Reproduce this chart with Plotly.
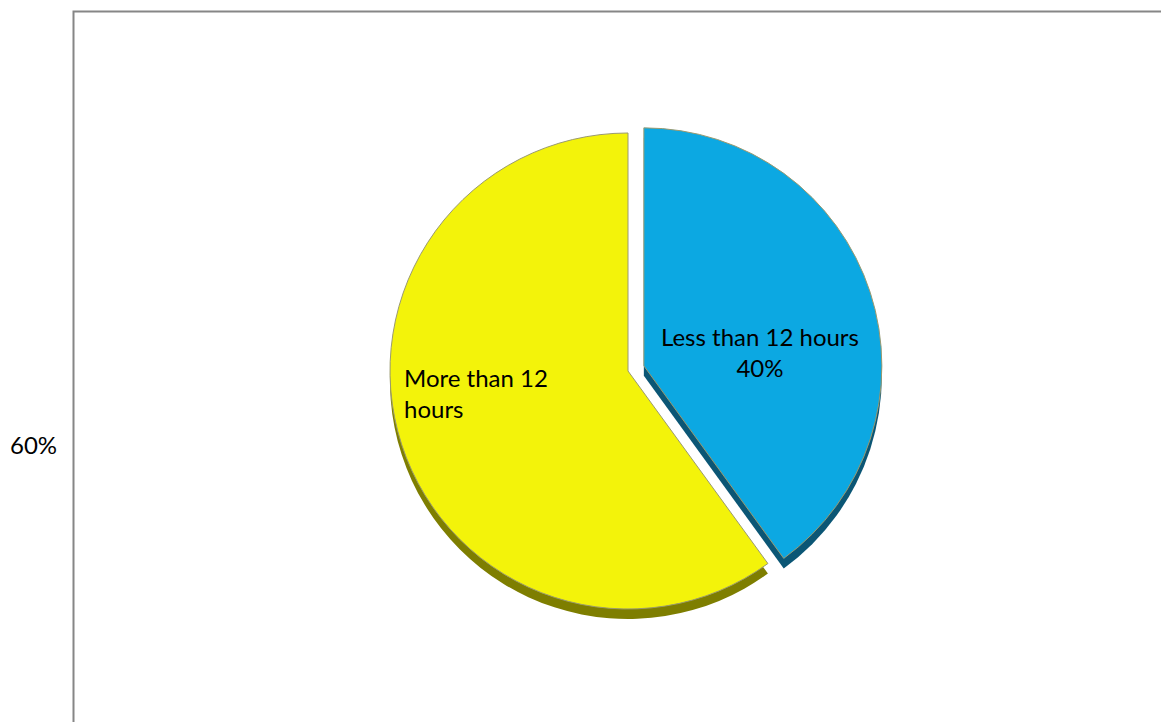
import plotly.graph_objects as go

labels = ["Less than 12 hours", "More than 12 hours"]
values = [40, 60]
colors = ["#0CA8E2", "#F3F30A"]
side_colors = ["#0B5675", "#7E7E00"]
pulls = [0.07, 0]

total = sum(values)
pcts = [f"{round(v / total * 100)}%" for v in values]

W, H = 1161, 722
cx, cy, r = 628, 371, 238
depth = 10
half = r * (1 + max(pulls))
FONT = "Lato, Carlito, sans-serif"


def dom(yoff):
    return dict(x=[(cx - half) / W, (cx + half) / W],
                y=[(H - cy - yoff - half) / H, (H - cy - yoff + half) / H])


common = dict(labels=labels, values=values, pull=pulls, sort=False,
              direction="clockwise", rotation=0, textinfo="none")

fig = go.Figure()
# side (3D rim) layer
fig.add_trace(go.Pie(**common, domain=dom(depth), hoverinfo="skip",
                     marker=dict(colors=side_colors, line=dict(width=0))))
# top face
fig.add_trace(go.Pie(**common, domain=dom(0), hoverinfo="label+percent",
                     marker=dict(colors=colors, line=dict(color="#9A9A70", width=1))))

fig.add_shape(type="rect", xref="paper", yref="paper",
              x0=73.5 / W, x1=1.02, y0=-0.02, y1=1 - 11.5 / H,
              line=dict(color="#868686", width=2), fillcolor="rgba(0,0,0,0)")

# slice labels
fig.add_annotation(text=f"{labels[0]}<br>{pcts[0]}", xref="paper", yref="paper",
                   x=760 / W, y=1 - 352 / H, xanchor="center", yanchor="middle",
                   align="center", showarrow=False,
                   font=dict(family=FONT, size=24, color="#000000"))
fig.add_annotation(text="More than 12<br>hours", xref="paper", yref="paper",
                   x=402 / W, y=1 - 393 / H, xanchor="left", yanchor="middle",
                   align="left", showarrow=False,
                   font=dict(family=FONT, size=24, color="#000000"))
fig.add_annotation(text=pcts[1], xref="paper", yref="paper",
                   x=33 / W, y=1 - 444 / H, xanchor="center", yanchor="middle",
                   showarrow=False,
                   font=dict(family=FONT, size=24, color="#000000"))

fig.update_layout(
    width=W, height=H,
    margin=dict(l=0, r=0, t=0, b=0),
    paper_bgcolor="white", plot_bgcolor="white",
    showlegend=False,
)

fig.write_html("out.html")
